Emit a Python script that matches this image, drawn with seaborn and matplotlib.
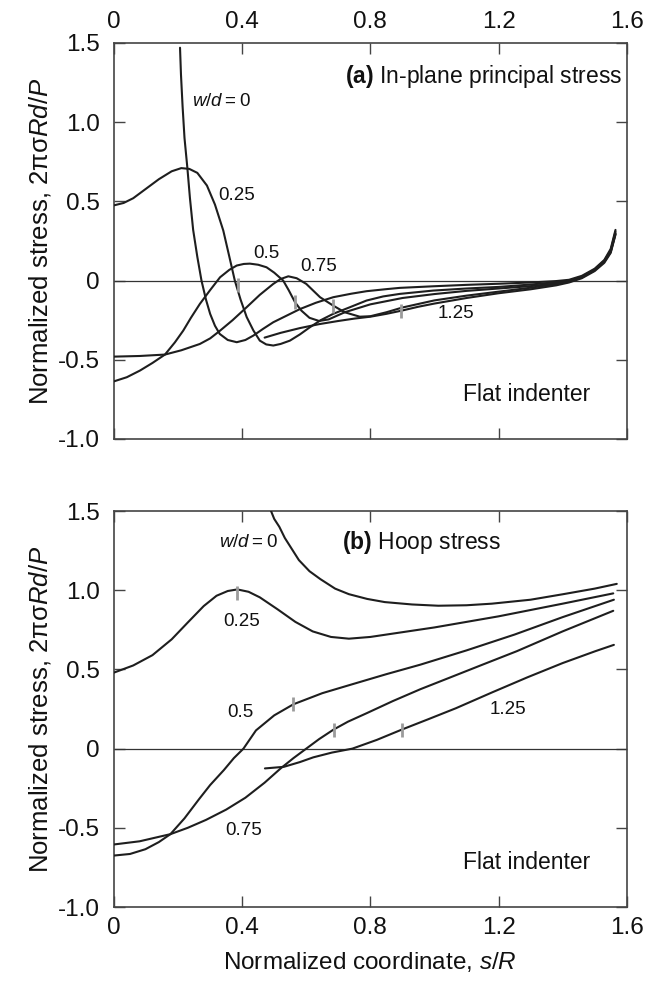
import numpy as np
import pandas as pd
import matplotlib
matplotlib.use("Agg")
import matplotlib.pyplot as plt
import seaborn as sns

# ---------------- data ----------------
# Panel (a): in-plane principal stress
a_w0_s = [0.206, 0.209, 0.214, 0.220, 0.229, 0.237, 0.247, 0.260, 0.273, 0.287, 0.300, 0.315,
          0.330, 0.355, 0.383, 0.410, 0.435, 0.465, 0.497, 0.540, 0.580, 0.630, 0.684, 0.740,
          0.788, 0.850, 0.892, 0.996, 1.100, 1.200, 1.300, 1.380, 1.420, 1.460, 1.500, 1.530,
          1.550, 1.565]
a_w0_y = [1.47, 1.30, 1.10, 0.90, 0.71, 0.52, 0.32, 0.15, 0.00, -0.12, -0.21, -0.285,
          -0.337, -0.375, -0.389, -0.375, -0.347, -0.305, -0.263, -0.220, -0.180, -0.140, -0.105, -0.083,
          -0.067, -0.054, -0.046, -0.036, -0.027, -0.020, -0.012, -0.003, 0.005, 0.030, 0.075, 0.130,
          0.200, 0.320]

a_w25_s = [0.0, 0.03, 0.06, 0.10, 0.14, 0.18, 0.21, 0.235, 0.26, 0.29, 0.315, 0.341, 0.36, 0.377,
           0.395, 0.414, 0.435, 0.455, 0.475, 0.497, 0.52, 0.549, 0.58, 0.611, 0.645, 0.684, 0.74,
           0.788, 0.84, 0.892, 0.996, 1.10, 1.20, 1.30, 1.38, 1.42, 1.46, 1.50, 1.53, 1.55, 1.565]
a_w25_y = [0.475, 0.49, 0.52, 0.58, 0.64, 0.69, 0.71, 0.705, 0.68, 0.60, 0.48, 0.316, 0.15, 0.0,
           -0.12, -0.23, -0.315, -0.379, -0.403, -0.41, -0.40, -0.379, -0.34, -0.295, -0.25, -0.21, -0.165,
           -0.126, -0.10, -0.084, -0.063, -0.05, -0.04, -0.025, -0.01, 0.0, 0.025, 0.07, 0.125, 0.19, 0.31]

a_w50_s = [0.0, 0.04, 0.081, 0.12, 0.159, 0.19, 0.216, 0.24, 0.268, 0.30, 0.331, 0.36, 0.383, 0.405,
           0.424, 0.45, 0.476, 0.50, 0.528, 0.545, 0.565, 0.585, 0.61, 0.64, 0.67, 0.72, 0.80, 0.90,
           1.00, 1.10, 1.20, 1.30, 1.38, 1.42, 1.46, 1.50, 1.53, 1.55, 1.565]
a_w50_y = [-0.636, -0.61, -0.568, -0.52, -0.467, -0.39, -0.316, -0.235, -0.147, -0.06, 0.021, 0.068, 0.095, 0.105,
           0.107, 0.10, 0.084, 0.05, 0.0, -0.06, -0.137, -0.19, -0.235, -0.255, -0.245, -0.20, -0.15, -0.11,
           -0.085, -0.065, -0.05, -0.035, -0.018, -0.005, 0.022, 0.068, 0.122, 0.185, 0.30]

a_w75_s = [0.0, 0.08, 0.159, 0.21, 0.268, 0.30, 0.331, 0.37, 0.414, 0.455, 0.497, 0.52, 0.544, 0.57,
           0.60, 0.62, 0.643, 0.684, 0.72, 0.767, 0.80, 0.85, 0.90, 1.00, 1.10, 1.20, 1.30, 1.38,
           1.42, 1.46, 1.50, 1.53, 1.55, 1.565]
a_w75_y = [-0.48, -0.476, -0.467, -0.44, -0.40, -0.365, -0.316, -0.25, -0.168, -0.09, -0.021, 0.01, 0.027, 0.015,
           -0.021, -0.06, -0.105, -0.158, -0.20, -0.228, -0.225, -0.20, -0.17, -0.125, -0.095, -0.07, -0.045, -0.022,
           -0.008, 0.02, 0.065, 0.118, 0.18, 0.295]

a_w125_s = [0.47, 0.52, 0.58, 0.64, 0.70, 0.75, 0.80, 0.85, 0.897, 0.95, 1.00, 1.10, 1.20, 1.30,
            1.38, 1.42, 1.46, 1.50, 1.53, 1.55, 1.565]
a_w125_y = [-0.36, -0.33, -0.30, -0.275, -0.255, -0.24, -0.228, -0.21, -0.19, -0.165, -0.145, -0.11, -0.08, -0.055,
            -0.03, -0.012, 0.015, 0.06, 0.112, 0.175, 0.29]

# Panel (b): hoop stress
b_w0_s = [0.49, 0.50, 0.516, 0.533, 0.555, 0.577, 0.61, 0.644, 0.69, 0.733, 0.79, 0.845, 0.93, 1.012,
          1.10, 1.179, 1.30, 1.402, 1.50, 1.569]
b_w0_y = [1.50, 1.45, 1.40, 1.33, 1.26, 1.19, 1.12, 1.07, 1.01, 0.975, 0.945, 0.925, 0.91, 0.902,
          0.905, 0.915, 0.94, 0.975, 1.01, 1.04]

b_w25_s = [0.0, 0.06, 0.12, 0.18, 0.232, 0.28, 0.32, 0.355, 0.385, 0.42, 0.455, 0.51, 0.566, 0.62,
           0.677, 0.733, 0.80, 0.90, 1.00, 1.10, 1.20, 1.30, 1.40, 1.558]
b_w25_y = [0.48, 0.525, 0.59, 0.69, 0.80, 0.90, 0.965, 0.995, 1.005, 0.99, 0.955, 0.88, 0.80, 0.74,
           0.705, 0.694, 0.705, 0.735, 0.765, 0.80, 0.835, 0.875, 0.915, 0.98]

b_w50_s = [0.0, 0.05, 0.098, 0.14, 0.176, 0.22, 0.265, 0.30, 0.343, 0.374, 0.404, 0.443, 0.50, 0.56,
           0.65, 0.733, 0.85, 0.956, 1.10, 1.25, 1.40, 1.56]
b_w50_y = [-0.675, -0.665, -0.635, -0.59, -0.54, -0.44, -0.32, -0.23, -0.135, -0.06, 0.0, 0.115, 0.21, 0.28,
           0.35, 0.40, 0.47, 0.53, 0.62, 0.72, 0.83, 0.94]

b_w75_s = [0.0, 0.08, 0.176, 0.23, 0.287, 0.35, 0.41, 0.47, 0.52, 0.56, 0.60, 0.64, 0.685, 0.73,
           0.79, 0.87, 0.956, 1.05, 1.15, 1.257, 1.40, 1.558]
b_w75_y = [-0.605, -0.585, -0.54, -0.50, -0.45, -0.385, -0.31, -0.215, -0.125, -0.06, 0.0, 0.06, 0.12, 0.17,
           0.225, 0.30, 0.375, 0.45, 0.53, 0.615, 0.74, 0.87]

b_w125_s = [0.471, 0.53, 0.58, 0.622, 0.68, 0.744, 0.82, 0.898, 0.98, 1.067, 1.18, 1.29, 1.40, 1.502, 1.56]
b_w125_y = [-0.125, -0.115, -0.085, -0.055, -0.025, 0.0, 0.055, 0.12, 0.185, 0.255, 0.355, 0.45, 0.54, 0.615, 0.655]

# contact-edge marks (grey ticks on the curves)
a_mark_s = [0.388, 0.565, 0.684, 0.897]
a_mark_y = [-0.03, -0.137, -0.158, -0.19]
b_mark_s = [0.385, 0.56, 0.685, 0.898]
b_mark_y = [0.98, 0.28, 0.12, 0.12]

wd_names = ["0", "0.25", "0.5", "0.75", "1.25"]
x_ticks = [0, 0.4, 0.8, 1.2, 1.6]
x_ticklabels = ["0", "0.4", "0.8", "1.2", "1.6"]
y_ticks = [-1.0, -0.5, 0, 0.5, 1.0, 1.5]
y_ticklabels = ["-1.0", "-0.5", "0", "0.5", "1.0", "1.5"]

# ---------------- styling ----------------
sns.set_theme(style="ticks")
plt.rcParams["font.family"] = ["Liberation Sans", "DejaVu Sans"]
plt.rcParams["mathtext.fontset"] = "custom"
plt.rcParams["mathtext.rm"] = "Liberation Sans"
plt.rcParams["mathtext.it"] = "Liberation Sans:italic"
plt.rcParams["mathtext.bf"] = "Liberation Sans:bold"

LINE = "#1e1e1e"
SPINE = "#444444"
TXT = "#111111"
TICK_FS = 17.5
YLAB_FS = 18.5
XLAB_FS = 17.5
TITLE_FS = 16.5
INL_FS = 13.5


def make_df(series):
    frames = []
    for name, (s, y) in zip(wd_names, series):
        frames.append(pd.DataFrame({"s": s, "stress": y, "wd": name}))
    return pd.concat(frames, ignore_index=True)


df_a = make_df([(a_w0_s, a_w0_y), (a_w25_s, a_w25_y), (a_w50_s, a_w50_y),
                (a_w75_s, a_w75_y), (a_w125_s, a_w125_y)])
df_b = make_df([(b_w0_s, b_w0_y), (b_w25_s, b_w25_y), (b_w50_s, b_w50_y),
                (b_w75_s, b_w75_y), (b_w125_s, b_w125_y)])

fig = plt.figure(figsize=(6.59, 9.81), dpi=100)
ax_a = fig.add_axes([0.173, 0.5525, 0.778, 0.4037])
ax_b = fig.add_axes([0.173, 0.0754, 0.778, 0.4037])

for ax, df, ms, my in [(ax_a, df_a, a_mark_s, a_mark_y), (ax_b, df_b, b_mark_s, b_mark_y)]:
    ax.axhline(0, color="#333333", lw=0.9, zorder=1)
    sns.lineplot(data=df, x="s", y="stress", units="wd", estimator=None, sort=False,
                 color=LINE, lw=1.5, ax=ax, legend=False, zorder=3)
    sns.scatterplot(x=ms, y=my, marker="|", s=110, color="#9b9b9b", linewidth=2.0,
                    ax=ax, zorder=4, legend=False)
    ax.set_xlim(0, 1.6)
    ax.set_ylim(-1.0, 1.5)
    ax.set_xticks(x_ticks)
    ax.set_xticklabels(x_ticklabels)
    ax.set_yticks(y_ticks)
    ax.set_yticklabels(y_ticklabels)
    ax.tick_params(direction="in", top=True, right=True, length=8, width=1.0,
                   color=SPINE, labelsize=TICK_FS, labelcolor=TXT)
    ax.tick_params(axis="y", pad=10)
    ax.tick_params(axis="x", pad=7)
    for sp in ax.spines.values():
        sp.set_color(SPINE)
        sp.set_linewidth(1.2)
    ax.set_ylabel("Normalized stress, 2πσ$\\mathit{Rd/P}$", fontsize=YLAB_FS, labelpad=4,
                  color=TXT)
    ax.set_xlabel("")
    ax.text(1.485, -0.72, "Flat indenter", fontsize=TITLE_FS, ha="right", va="center", color=TXT)

ax_a.tick_params(labeltop=True, labelbottom=False)
ax_b.set_xlabel("Normalized coordinate, $\\mathit{s/R}$", fontsize=XLAB_FS, labelpad=8, color=TXT)

eq0 = "$\\mathit{w/d}$\u2009=\u20090"

# panel (a) annotations
ax_a.text(1.585, 1.29, "$\\mathbf{(a)}$ In-plane principal stress", fontsize=TITLE_FS,
          ha="right", va="center", color=TXT)
ax_a.text(0.335, 1.13, eq0, fontsize=INL_FS, ha="center", va="center", color=TXT)
ax_a.text(0.383, 0.536, "0.25", fontsize=INL_FS, ha="center", va="center", color=TXT)
ax_a.text(0.476, 0.172, "0.5", fontsize=INL_FS, ha="center", va="center", color=TXT)
ax_a.text(0.637, 0.092, "0.75", fontsize=INL_FS, ha="center", va="center", color=TXT)
ax_a.text(1.066, -0.206, "1.25", fontsize=INL_FS, ha="center", va="center", color=TXT)

# panel (b) annotations
ax_b.text(0.711, 1.30, "$\\mathbf{(b)}$ Hoop stress", fontsize=TITLE_FS, ha="left", va="center",
          color=TXT)
ax_b.text(0.42, 1.30, eq0, fontsize=INL_FS, ha="center", va="center", color=TXT)
ax_b.text(0.399, 0.80, "0.25", fontsize=INL_FS, ha="center", va="center", color=TXT)
ax_b.text(0.393, 0.23, "0.5", fontsize=INL_FS, ha="center", va="center", color=TXT)
ax_b.text(0.404, -0.52, "0.75", fontsize=INL_FS, ha="center", va="center", color=TXT)
ax_b.text(1.229, 0.25, "1.25", fontsize=INL_FS, ha="center", va="center", color=TXT)

fig.savefig("out.png", dpi=100)
